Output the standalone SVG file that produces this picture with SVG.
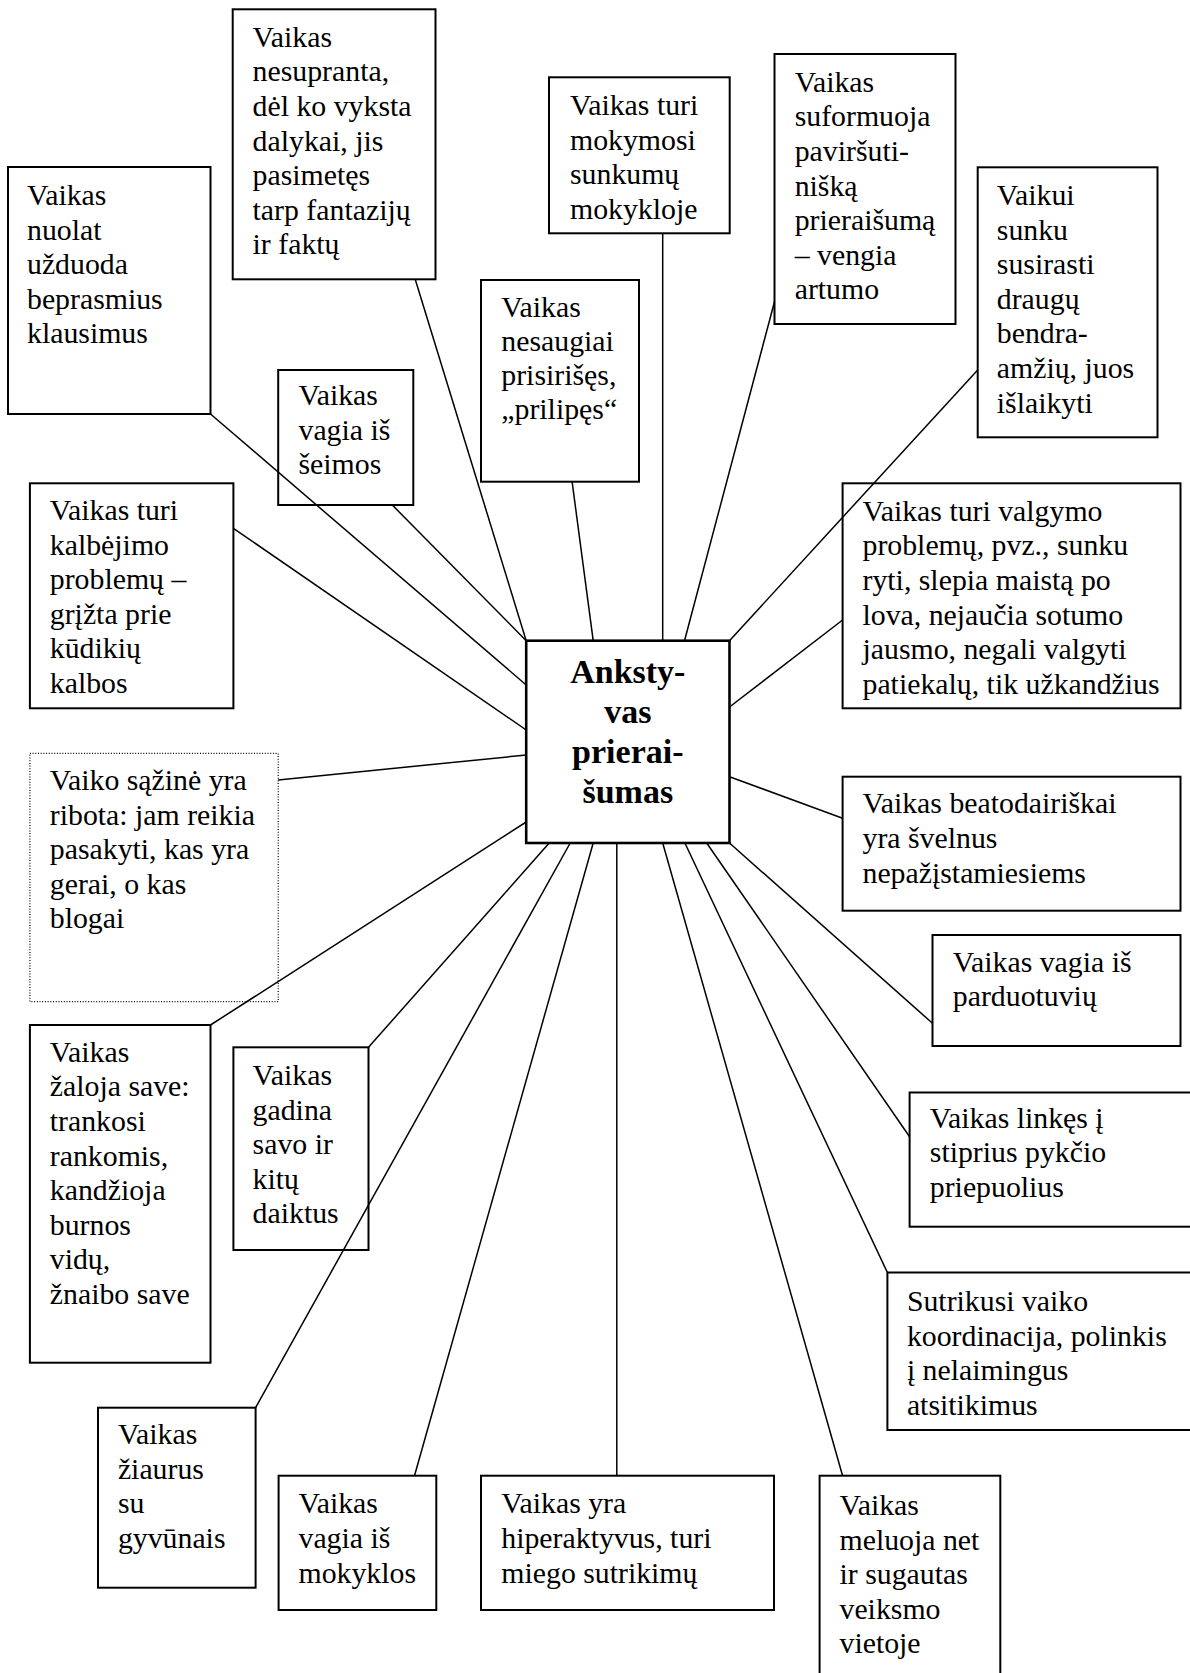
<svg xmlns="http://www.w3.org/2000/svg" width="1190" height="1673" viewBox="0 0 1190 1673" font-family="Liberation Serif">
  <style>
    .box { fill: none; stroke: #000; stroke-width: 2; }
    .dotted { fill: none; stroke: #000; stroke-width: 1.2; stroke-dasharray: 1 1.7; }
    .core { fill: none; stroke: #000; stroke-width: 2.6; }
    .ln { stroke: #000; stroke-width: 1.5; fill: none; }
    .t { font-size: 29.8px; fill: #000; }
    .c { font-size: 34px; font-weight: bold; fill: #000; text-anchor: middle; }
  </style>
  <rect x="0" y="0" width="1190" height="1673" fill="#fff"/>

  <!-- spokes from the central box -->
  <g id="connectors" class="ln">
    <line x1="210.5" y1="414" x2="526.2" y2="685"/>
    <line x1="415.2" y1="279.3" x2="526.2" y2="640.7"/>
    <line x1="392.3" y1="505" x2="526.2" y2="640.7"/>
    <line x1="662.7" y1="233.3" x2="662.7" y2="640.7"/>
    <line x1="572.1" y1="481.7" x2="593.2" y2="640.7"/>
    <line x1="774.5" y1="301.7" x2="684.5" y2="640.7"/>
    <line x1="977.7" y1="370" x2="729.5" y2="640.7"/>
    <line x1="233.4" y1="528.3" x2="526.2" y2="730"/>
    <line x1="278.2" y1="780" x2="526.2" y2="755"/>
    <line x1="842.6" y1="620" x2="729.5" y2="707"/>
    <line x1="842.6" y1="818.3" x2="729.5" y2="776.7"/>
    <line x1="729.5" y1="843" x2="932.5" y2="1023.3"/>
    <line x1="706.7" y1="843" x2="909.6" y2="1136.7"/>
    <line x1="684.9" y1="843" x2="887.4" y2="1272.5"/>
    <line x1="662.7" y1="843" x2="842.6" y2="1475.7"/>
    <line x1="616.8" y1="843" x2="616.8" y2="1475.7"/>
    <line x1="593.2" y1="843" x2="414.5" y2="1475.7"/>
    <line x1="570.2" y1="843" x2="255.6" y2="1407.7"/>
    <line x1="549.2" y1="843" x2="368.5" y2="1047.3"/>
    <line x1="526.2" y1="822" x2="210.5" y2="1025"/>
  </g>

  <g id="center">
    <rect class="core" x="526.2" y="640.7" width="203.3" height="202.3"/>
    <text class="c" x="627.8" y="683.3">Anksty-</text>
    <text class="c" x="627.8" y="723">vas</text>
    <text class="c" x="627.8" y="763">prierai-</text>
    <text class="c" x="627.8" y="803">šumas</text>
  </g>

  <g id="n-klausimus">
    <rect class="box" x="8" y="167" width="202.5" height="247"/>
    <text class="t" x="27" y="205">
      <tspan x="27">Vaikas</tspan><tspan x="27" dy="34.6">nuolat</tspan><tspan x="27" dy="34.6">užduoda</tspan><tspan x="27" dy="34.6">beprasmius</tspan><tspan x="27" dy="34.6">klausimus</tspan>
    </text>
  </g>

  <g id="n-fantazijos">
    <rect class="box" x="232.7" y="9.3" width="202.8" height="270"/>
    <text class="t" x="252.6" y="46.7">
      <tspan x="252.6">Vaikas</tspan><tspan x="252.6" dy="34.6">nesupranta,</tspan><tspan x="252.6" dy="34.6">dėl ko vyksta</tspan><tspan x="252.6" dy="34.6">dalykai, jis</tspan><tspan x="252.6" dy="34.6">pasimetęs</tspan><tspan x="252.6" dy="34.6">tarp fantazijų</tspan><tspan x="252.6" dy="34.6">ir faktų</tspan>
    </text>
  </g>

  <g id="n-mokymasis">
    <rect class="box" x="549" y="77.3" width="180.7" height="156"/>
    <text class="t" x="570" y="115">
      <tspan x="570">Vaikas turi</tspan><tspan x="570" dy="34.6">mokymosi</tspan><tspan x="570" dy="34.6">sunkumų</tspan><tspan x="570" dy="34.6">mokykloje</tspan>
    </text>
  </g>

  <g id="n-pavirsutinis">
    <rect class="box" x="774.5" y="54" width="181" height="270"/>
    <text class="t" x="794.7" y="91.7">
      <tspan x="794.7">Vaikas</tspan><tspan x="794.7" dy="34.6">suformuoja</tspan><tspan x="794.7" dy="34.6">paviršuti-</tspan><tspan x="794.7" dy="34.6">nišką</tspan><tspan x="794.7" dy="34.6">prieraišumą</tspan><tspan x="794.7" dy="34.6">– vengia</tspan><tspan x="794.7" dy="34.6">artumo</tspan>
    </text>
  </g>

  <g id="n-draugai">
    <rect class="box" x="977.7" y="167.3" width="179.8" height="270"/>
    <text class="t" x="996.8" y="205">
      <tspan x="996.8">Vaikui</tspan><tspan x="996.8" dy="34.6">sunku</tspan><tspan x="996.8" dy="34.6">susirasti</tspan><tspan x="996.8" dy="34.6">draugų</tspan><tspan x="996.8" dy="34.6">bendra-</tspan><tspan x="996.8" dy="34.6">amžių, juos</tspan><tspan x="996.8" dy="34.6">išlaikyti</tspan>
    </text>
  </g>

  <g id="n-prilipes">
    <rect class="box" x="481" y="280" width="158" height="201.7"/>
    <text class="t" x="501.3" y="316.7">
      <tspan x="501.3">Vaikas</tspan><tspan x="501.3" dy="34">nesaugiai</tspan><tspan x="501.3" dy="34">prisirišęs,</tspan><tspan x="501.3" dy="34">„prilipęs“</tspan>
    </text>
  </g>

  <g id="n-vagia-seima">
    <rect class="box" x="278.2" y="370" width="135.1" height="135"/>
    <text class="t" x="298.5" y="405">
      <tspan x="298.5">Vaikas</tspan><tspan x="298.5" dy="34.6">vagia iš</tspan><tspan x="298.5" dy="34.6">šeimos</tspan>
    </text>
  </g>

  <g id="n-kalba">
    <rect class="box" x="29.9" y="483.3" width="203.5" height="225"/>
    <text class="t" x="49.8" y="520">
      <tspan x="49.8">Vaikas turi</tspan><tspan x="49.8" dy="34.6">kalbėjimo</tspan><tspan x="49.8" dy="34.6">problemų –</tspan><tspan x="49.8" dy="34.6">grįžta prie</tspan><tspan x="49.8" dy="34.6">kūdikių</tspan><tspan x="49.8" dy="34.6">kalbos</tspan>
    </text>
  </g>

  <g id="n-valgymas">
    <rect class="box" x="842.6" y="483.3" width="337.9" height="225"/>
    <text class="t" x="862.5" y="520.7">
      <tspan x="862.5">Vaikas turi valgymo</tspan><tspan x="862.5" dy="34.6">problemų, pvz., sunku</tspan><tspan x="862.5" dy="34.6">ryti, slepia maistą po</tspan><tspan x="862.5" dy="34.6">lova, nejaučia sotumo</tspan><tspan x="862.5" dy="34.6">jausmo, negali valgyti</tspan><tspan x="862.5" dy="34.6">patiekalų, tik užkandžius</tspan>
    </text>
  </g>

  <g id="n-svelnus">
    <rect class="box" x="842.6" y="776.7" width="337.9" height="134"/>
    <text class="t" x="862.5" y="813.3">
      <tspan x="862.5">Vaikas beatodairiškai</tspan><tspan x="862.5" dy="34.6">yra švelnus</tspan><tspan x="862.5" dy="34.6">nepažįstamiesiems</tspan>
    </text>
  </g>

  <g id="n-sazine">
    <rect class="dotted" x="29.9" y="753.3" width="248.3" height="248.4"/>
    <text class="t" x="49.8" y="790">
      <tspan x="49.8">Vaiko sąžinė yra</tspan><tspan x="49.8" dy="34.6">ribota: jam reikia</tspan><tspan x="49.8" dy="34.6">pasakyti, kas yra</tspan><tspan x="49.8" dy="34.6">gerai, o kas</tspan><tspan x="49.8" dy="34.6">blogai</tspan>
    </text>
  </g>

  <g id="n-parduotuves">
    <rect class="box" x="932.5" y="935" width="248" height="111"/>
    <text class="t" x="952.8" y="971.7">
      <tspan x="952.8">Vaikas vagia iš</tspan><tspan x="952.8" dy="34.6">parduotuvių</tspan>
    </text>
  </g>

  <g id="n-zaloja">
    <rect class="box" x="29.9" y="1025" width="180.6" height="337.7"/>
    <text class="t" x="49.8" y="1061.7">
      <tspan x="49.8">Vaikas</tspan><tspan x="49.8" dy="34.6">žaloja save:</tspan><tspan x="49.8" dy="34.6">trankosi</tspan><tspan x="49.8" dy="34.6">rankomis,</tspan><tspan x="49.8" dy="34.6">kandžioja</tspan><tspan x="49.8" dy="34.6">burnos</tspan><tspan x="49.8" dy="34.6">vidų,</tspan><tspan x="49.8" dy="34.6">žnaibo save</tspan>
    </text>
  </g>

  <g id="n-gadina">
    <rect class="box" x="233.4" y="1047.3" width="135.1" height="202.7"/>
    <text class="t" x="252.6" y="1085">
      <tspan x="252.6">Vaikas</tspan><tspan x="252.6" dy="34.6">gadina</tspan><tspan x="252.6" dy="34.6">savo ir</tspan><tspan x="252.6" dy="34.6">kitų</tspan><tspan x="252.6" dy="34.6">daiktus</tspan>
    </text>
  </g>

  <g id="n-pyktis">
    <rect class="box" x="909.6" y="1092.5" width="290" height="134.2"/>
    <text class="t" x="929.8" y="1127.5">
      <tspan x="929.8">Vaikas linkęs į</tspan><tspan x="929.8" dy="34.6">stiprius pykčio</tspan><tspan x="929.8" dy="34.6">priepuolius</tspan>
    </text>
  </g>

  <g id="n-koordinacija">
    <rect class="box" x="887.4" y="1272.5" width="312" height="157.5"/>
    <text class="t" x="906.9" y="1311">
      <tspan x="906.9">Sutrikusi vaiko</tspan><tspan x="906.9" dy="34.6">koordinacija, polinkis</tspan><tspan x="906.9" dy="34.6">į nelaimingus</tspan><tspan x="906.9" dy="34.6">atsitikimus</tspan>
    </text>
  </g>

  <g id="n-gyvunai">
    <rect class="box" x="98" y="1407.7" width="157.6" height="180"/>
    <text class="t" x="117.9" y="1444">
      <tspan x="117.9">Vaikas</tspan><tspan x="117.9" dy="34.6">žiaurus</tspan><tspan x="117.9" dy="34.6">su</tspan><tspan x="117.9" dy="34.6">gyvūnais</tspan>
    </text>
  </g>

  <g id="n-mokykla">
    <rect class="box" x="278.6" y="1475.7" width="157.7" height="134.3"/>
    <text class="t" x="298.5" y="1513.3">
      <tspan x="298.5">Vaikas</tspan><tspan x="298.5" dy="34.6">vagia iš</tspan><tspan x="298.5" dy="34.6">mokyklos</tspan>
    </text>
  </g>

  <g id="n-hiperaktyvus">
    <rect class="box" x="481" y="1475.7" width="293" height="134.3"/>
    <text class="t" x="501.3" y="1513.3">
      <tspan x="501.3">Vaikas yra</tspan><tspan x="501.3" dy="34.6">hiperaktyvus, turi</tspan><tspan x="501.3" dy="34.6">miego sutrikimų</tspan>
    </text>
  </g>

  <g id="n-meluoja">
    <rect class="box" x="819.6" y="1475.7" width="180.7" height="210"/>
    <text class="t" x="839.5" y="1515">
      <tspan x="839.5">Vaikas</tspan><tspan x="839.5" dy="34.6">meluoja net</tspan><tspan x="839.5" dy="34.6">ir sugautas</tspan><tspan x="839.5" dy="34.6">veiksmo</tspan><tspan x="839.5" dy="34.6">vietoje</tspan>
    </text>
  </g>
</svg>
